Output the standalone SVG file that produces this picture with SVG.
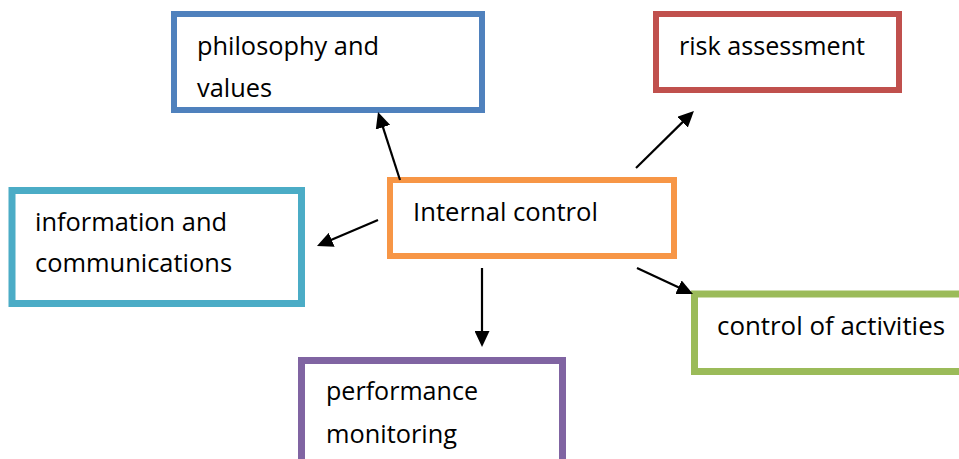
<svg xmlns="http://www.w3.org/2000/svg" width="959" height="459" viewBox="0 0 959 459">
<style>
.box{fill:#fff;}
.t{font-family:"Open Sans","Liberation Sans",sans-serif;font-size:25px;fill:#000;}
.c{stroke:#000;stroke-width:2.2;fill:none;marker-end:url(#ah);}
</style>
<defs>
<marker id="ah" markerUnits="userSpaceOnUse" markerWidth="16" markerHeight="15" viewBox="0 0 16 15" refX="4" refY="7.5" orient="auto">
<path d="M0,0 L16,7.5 L0,15 z" fill="#000"/>
</marker>
</defs>
<rect width="959" height="459" fill="#fff"/>
<g id="philosophy">
<rect class="box" x="174" y="14" width="308" height="96" stroke="#4F81BD" stroke-width="6"/>
<text class="t" x="197" y="55" textLength="182" lengthAdjust="spacingAndGlyphs">philosophy and</text>
<text class="t" x="197" y="97" textLength="75" lengthAdjust="spacingAndGlyphs">values</text>
</g>
<g id="risk">
<rect class="box" x="656" y="14" width="243" height="76" stroke="#C0504D" stroke-width="6"/>
<text class="t" x="679" y="55" textLength="186" lengthAdjust="spacingAndGlyphs">risk assessment</text>
</g>
<g id="information">
<rect class="box" x="12" y="190.5" width="289.5" height="113" stroke="#4BACC6" stroke-width="7"/>
<text class="t" x="35" y="231" textLength="192" lengthAdjust="spacingAndGlyphs">information and</text>
<text class="t" x="35" y="272" textLength="197" lengthAdjust="spacingAndGlyphs">communications</text>
</g>
<g id="internal">
<rect class="box" x="390" y="180" width="284" height="76" stroke="#F79646" stroke-width="6"/>
<text class="t" x="413" y="221" textLength="185" lengthAdjust="spacingAndGlyphs">Internal control</text>
</g>
<g id="activities">
<rect class="box" x="694.5" y="294" width="290" height="77.5" stroke="#9BBB59" stroke-width="7"/>
<text class="t" x="717" y="335" textLength="228" lengthAdjust="spacingAndGlyphs">control of activities</text>
</g>
<g id="performance">
<rect class="box" x="301.5" y="360.5" width="261" height="130" stroke="#8064A2" stroke-width="7"/>
<text class="t" x="326" y="400" textLength="152" lengthAdjust="spacingAndGlyphs">performance</text>
<text class="t" x="326" y="443" textLength="131" lengthAdjust="spacingAndGlyphs">monitoring</text>
</g>
<g id="connectors">
<line class="c" x1="400" y1="180" x2="381.7" y2="123.4"/>
<line class="c" x1="636" y1="168" x2="685.4" y2="119.4"/>
<line class="c" x1="378" y1="220" x2="328" y2="241.3"/>
<line class="c" x1="482" y1="268" x2="482" y2="335"/>
<line class="c" x1="637" y1="268" x2="682.1" y2="288.9"/>
</g>
</svg>
